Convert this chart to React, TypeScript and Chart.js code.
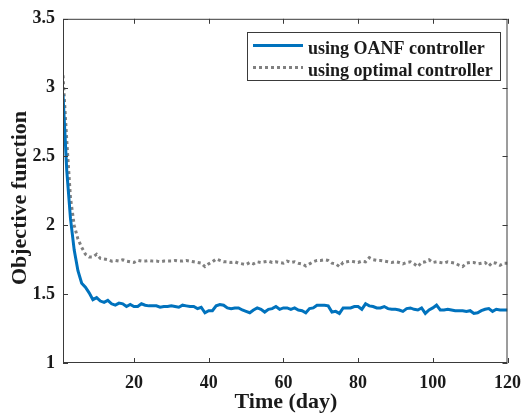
import React, { useEffect, useRef } from "react";
import { Chart, registerables } from "chart.js";

Chart.register(...registerables);

// x index: day number 1..120
const days: number[] = Array.from({ length: 120 }, (_, i) => i + 1);

const oanf: number[] = [
  2.95, 2.40, 2.05, 1.82, 1.67, 1.58, 1.55, 1.51, 1.46, 1.475,
  1.45, 1.44, 1.455, 1.43, 1.42, 1.435, 1.43, 1.41, 1.425, 1.41,
  1.41, 1.43, 1.42, 1.415, 1.415, 1.415, 1.405, 1.41, 1.41, 1.415,
  1.41, 1.405, 1.42, 1.415, 1.41, 1.41, 1.395, 1.405, 1.365, 1.38,
  1.38, 1.415, 1.425, 1.42, 1.40, 1.395, 1.40, 1.40, 1.385, 1.375,
  1.365, 1.385, 1.40, 1.39, 1.37, 1.39, 1.395, 1.41, 1.39, 1.40,
  1.40, 1.39, 1.40, 1.385, 1.38, 1.365, 1.395, 1.40, 1.42, 1.42,
  1.42, 1.415, 1.37, 1.375, 1.36, 1.40, 1.40, 1.40, 1.41, 1.41,
  1.39, 1.43, 1.415, 1.41, 1.40, 1.40, 1.41, 1.395, 1.39, 1.39,
  1.385, 1.375, 1.395, 1.40, 1.39, 1.385, 1.40, 1.36, 1.385, 1.40,
  1.42, 1.385, 1.385, 1.39, 1.385, 1.38, 1.38, 1.38, 1.375, 1.38,
  1.36, 1.365, 1.38, 1.39, 1.395, 1.375, 1.39, 1.385, 1.385, 1.385,
];

const optimal: number[] = [
  3.09, 2.62, 2.20, 2.00, 1.90, 1.84, 1.79, 1.77, 1.77, 1.79,
  1.76, 1.755, 1.75, 1.74, 1.745, 1.74, 1.75, 1.74, 1.735, 1.73,
  1.745, 1.74, 1.74, 1.745, 1.74, 1.74, 1.735, 1.74, 1.74, 1.74,
  1.745, 1.74, 1.74, 1.745, 1.74, 1.735, 1.73, 1.725, 1.70, 1.72,
  1.735, 1.755, 1.745, 1.735, 1.735, 1.73, 1.735, 1.725, 1.72, 1.715,
  1.73, 1.72, 1.735, 1.73, 1.735, 1.74, 1.73, 1.735, 1.73, 1.725,
  1.74, 1.73, 1.735, 1.725, 1.72, 1.705, 1.72, 1.735, 1.745, 1.745,
  1.75, 1.745, 1.725, 1.72, 1.70, 1.73, 1.735, 1.74, 1.735, 1.73,
  1.74, 1.735, 1.765, 1.75, 1.745, 1.745, 1.74, 1.735, 1.73, 1.735,
  1.73, 1.72, 1.73, 1.735, 1.72, 1.70, 1.73, 1.735, 1.75, 1.73,
  1.735, 1.73, 1.725, 1.735, 1.73, 1.725, 1.71, 1.70, 1.725, 1.73,
  1.73, 1.72, 1.725, 1.73, 1.705, 1.73, 1.725, 1.71, 1.725, 1.725,
];

const seriesNames: string[] = ["using OANF controller", "using optimal controller"];
const xTicks: number[] = [20, 40, 60, 80, 100, 120];
const yTicks: number[] = [1, 1.5, 2, 2.5, 3, 3.5];
const xTitle = "Time (day)";
const yTitle = "Objective function";

const FONT = "'Liberation Serif', 'Times New Roman', serif";
const AXIS = "#3a3a3a";
const TEXT = "#1a1a1a";
const BLUE = "#0072BD";
const GRAY = "#808080";

const framePlugin = {
  id: "matlabFrame",
  afterDraw(chart: any) {
    const { ctx, chartArea: a, scales } = chart;
    ctx.save();
    ctx.strokeStyle = AXIS;
    ctx.lineWidth = 1;
    // box
    ctx.strokeRect(a.left + 0.5, a.top + 0.5, a.right - a.left - 1, a.bottom - a.top - 1);
    // inward ticks
    const tl = 5;
    ctx.beginPath();
    for (const v of xTicks) {
      const px = Math.round(scales.x.getPixelForValue(v)) + 0.5;
      ctx.moveTo(px, a.bottom);
      ctx.lineTo(px, a.bottom - tl);
      ctx.moveTo(px, a.top);
      ctx.lineTo(px, a.top + tl);
    }
    for (const v of yTicks) {
      const py = Math.round(scales.y.getPixelForValue(v)) + 0.5;
      ctx.moveTo(a.left, py);
      ctx.lineTo(a.left + tl, py);
      ctx.moveTo(a.right, py);
      ctx.lineTo(a.right - tl, py);
    }
    ctx.stroke();

    // axis titles
    ctx.fillStyle = TEXT;
    ctx.font = `bold 22px ${FONT}`;
    ctx.textAlign = "center";
    ctx.textBaseline = "alphabetic";
    ctx.fillText(xTitle, 286, 408);
    ctx.save();
    ctx.translate(26, 198);
    ctx.rotate(-Math.PI / 2);
    ctx.fillText(yTitle, 0, 0);
    ctx.restore();

    // legend
    const lx = 247, ly = 32, lw = 253, lh = 48;
    ctx.fillStyle = "#ffffff";
    ctx.fillRect(lx, ly, lw, lh);
    ctx.strokeStyle = AXIS;
    ctx.lineWidth = 1;
    ctx.strokeRect(lx + 0.5, ly + 0.5, lw, lh);
    const rows = [45.5, 67.5];
    chart.data.datasets.forEach((ds: any, i: number) => {
      ctx.save();
      ctx.strokeStyle = ds.borderColor;
      ctx.lineWidth = ds.borderWidth;
      ctx.setLineDash(ds.borderDash || []);
      ctx.beginPath();
      ctx.moveTo(253, rows[i]);
      ctx.lineTo(303, rows[i]);
      ctx.stroke();
      ctx.restore();
      ctx.fillStyle = TEXT;
      ctx.font = `bold 18px ${FONT}`;
      ctx.textAlign = "left";
      ctx.textBaseline = "alphabetic";
      ctx.fillText(ds.label, 308, rows[i] + 8);
    });
    ctx.restore();
  },
};

export default function App() {
  const ref = useRef<HTMLCanvasElement | null>(null);
  useEffect(() => {
    document.body.style.margin = "0";
    const canvas = ref.current;
    if (!canvas) return;
    const chart = new Chart(canvas, {
      type: "line",
      data: {
        datasets: [
          {
            label: seriesNames[0],
            data: days.map((d, i) => ({ x: d, y: oanf[i] })),
            borderColor: BLUE,
            borderWidth: 3,
            pointRadius: 0,
            tension: 0,
            fill: false,
          },
          {
            label: seriesNames[1],
            data: days.map((d, i) => ({ x: d, y: optimal[i] })),
            borderColor: GRAY,
            borderWidth: 3,
            borderDash: [3, 3],
            pointRadius: 0,
            tension: 0,
            fill: false,
          },
        ],
      },
      options: {
        animation: false,
        responsive: false,
        maintainAspectRatio: false,
        layout: { padding: { top: 15, right: 14, left: 0, bottom: 0 } },
        plugins: {
          legend: { display: false },
          tooltip: { enabled: false },
        },
        scales: {
          x: {
            type: "linear",
            min: 1,
            max: 120,
            grid: { display: false, drawTicks: false },
            border: { display: false },
            afterBuildTicks: (s: any) => {
              s.ticks = xTicks.map((v) => ({ value: v }));
            },
            afterFit: (s: any) => {
              s.height = 55;
            },
            ticks: {
              padding: 10,
              maxRotation: 0,
              autoSkip: false,
              color: TEXT,
              font: { family: FONT, size: 18, weight: "bold" },
              callback: (v: any) => String(v),
            },
          },
          y: {
            type: "linear",
            min: 1,
            max: 3.5,
            grid: { display: false, drawTicks: false },
            border: { display: false },
            afterBuildTicks: (s: any) => {
              s.ticks = yTicks.map((v) => ({ value: v }));
            },
            afterFit: (s: any) => {
              s.width = 63;
            },
            ticks: {
              padding: 8,
              autoSkip: false,
              color: TEXT,
              font: { family: FONT, size: 18, weight: "bold" },
              callback: (v: any) => String(v),
            },
          },
        },
      },
      plugins: [framePlugin],
    });
    return () => chart.destroy();
  }, []);
  return (
    <div style={{ width: 531, height: 418 }}>
      <canvas ref={ref} width={531} height={418} style={{ display: "block" }} />
    </div>
  );
}
